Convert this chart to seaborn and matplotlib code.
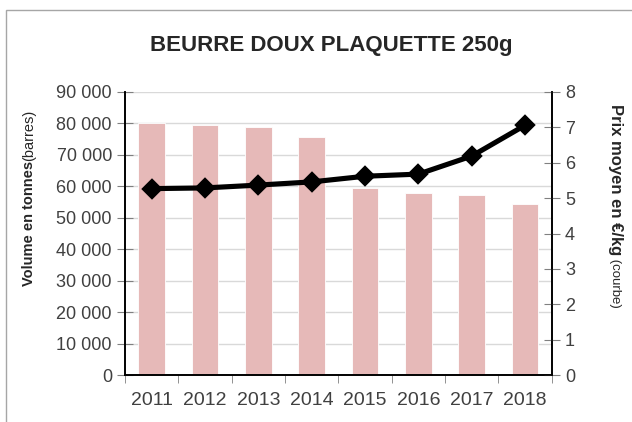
import numpy as np
import pandas as pd
import matplotlib
matplotlib.use("Agg")
import matplotlib.pyplot as plt
import seaborn as sns
from matplotlib.patches import Rectangle
from matplotlib.ticker import FuncFormatter, MultipleLocator

years = ["2011", "2012", "2013", "2014", "2015", "2016", "2017", "2018"]
volume = [80000, 79500, 78900, 75700, 59600, 57800, 57200, 54400]
prix = [5.27, 5.29, 5.37, 5.46, 5.62, 5.68, 6.19, 7.06]

df = pd.DataFrame({"annee": years, "volume": volume, "prix": prix})

sns.set_style("white")
plt.rcParams["font.family"] = ["Liberation Sans", "DejaVu Sans"]

fig = plt.figure(figsize=(6.32, 4.22), dpi=100)
ax = fig.add_axes([0.198, 0.111, 0.675, 0.671])

# cadre gris autour du graphique
fig.patches.append(Rectangle((6 / 632, -0.1), 1.2, 1.1 - 10 / 422,
                             transform=fig.transFigure, fill=False,
                             edgecolor="#A6A6A6", lw=1, clip_on=False))

sns.barplot(data=df, x="annee", y="volume", color="#E6B9B8", width=0.5,
            saturation=1, edgecolor="white", linewidth=0.6, ax=ax, zorder=2)

ax.set_ylim(0, 90000)
ax.set_xlim(-0.5, len(years) - 0.5)
ax.yaxis.set_major_locator(MultipleLocator(10000))
ax.yaxis.set_major_formatter(FuncFormatter(lambda v, p: f"{int(v):,}".replace(",", " ")))
ax.grid(axis="y", color="#D9D9D9", lw=1, zorder=0)
ax.set_axisbelow(True)
ax.set_xlabel("")
ax.set_ylabel("")

ax2 = ax.twinx()
sns.pointplot(data=df, x="annee", y="prix", color="black", markers="D",
              linestyles="-", errorbar=None, ax=ax2,
              markersize=8.5, linewidth=3.7)
ax2.set_ylim(0, 8)
ax2.set_xlim(-0.5, len(years) - 0.5)
ax2.yaxis.set_major_locator(MultipleLocator(1))
ax2.set_xlabel("")
ax2.set_ylabel("")

for a in (ax, ax2):
    a.spines["top"].set_visible(False)
    for s in ("left", "right", "bottom"):
        a.spines[s].set_color("black")
        a.spines[s].set_linewidth(1.2)

ax.tick_params(axis="y", direction="inout", length=11, color="#808080",
               labelsize=13, labelcolor="#404040", pad=4, left=True)
ax2.tick_params(axis="y", direction="inout", length=11, color="#808080",
                labelsize=13, labelcolor="#404040", pad=4, right=True)

# graduations x entre les categories
ax.set_xticks(np.arange(len(years) + 1) - 0.5, minor=True)
ax.tick_params(axis="x", which="minor", direction="out", length=6,
               color="#808080", bottom=True)
ax.tick_params(axis="x", which="major", length=0, labelsize=14,
               labelcolor="#404040", pad=12)
ax2.tick_params(axis="x", which="both", length=0)

fig.text(0.524, 0.893, "BEURRE DOUX PLAQUETTE 250g", ha="center", va="center",
         fontsize=16, fontweight="bold")

fig.text(29 / 632, 1 - 161 / 422, "Volume en tonnes", rotation=90,
         rotation_mode="anchor", ha="right", va="center", fontsize=10.5,
         fontweight="bold", color="#262626")
fig.text(29 / 632, 1 - 161 / 422, "(barres)", rotation=90,
         rotation_mode="anchor", ha="left", va="center", fontsize=10.5,
         color="#262626")

fig.text(615 / 632, 1 - 255 / 422, "Prix moyen en €/kg", rotation=-90,
         rotation_mode="anchor", ha="right", va="center", fontsize=12,
         fontweight="bold", color="#262626")
fig.text(615 / 632, 1 - 255 / 422, " (courbe)", rotation=-90,
         rotation_mode="anchor", ha="left", va="center", fontsize=9.5,
         color="#262626")

fig.savefig("out.png", dpi=100)
